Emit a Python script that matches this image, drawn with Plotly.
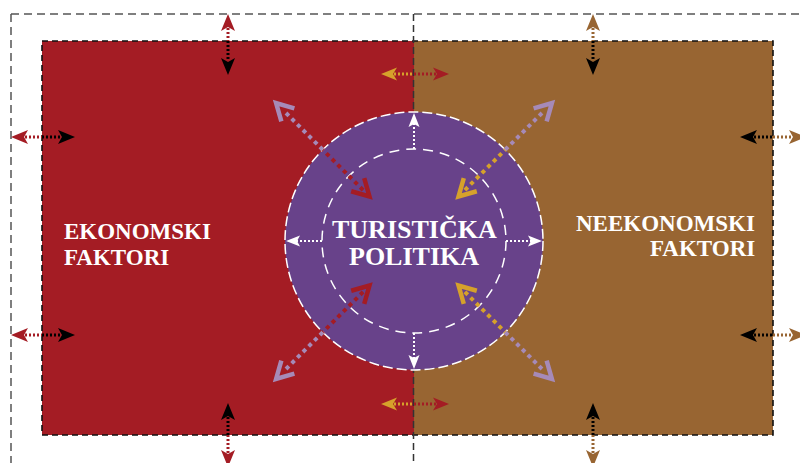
import math
import plotly.graph_objects as go

# ---- text content ----
center_lines = ["TURISTIČKA", "POLITIKA"]
left_lines = ["EKONOMSKI", "FAKTORI"]
right_lines = ["NEEKONOMSKI", "FAKTORI"]

# ---- styles ----
RED = "#A41C24"
BROWN = "#986532"
PURPLE = "#68428A"
GOLD = "#D6A12B"
LAV = "#A68AB8"
BLACK = "#000000"
WHITE = "#FFFFFF"
FONT = "Liberation Serif"

W, H = 800, 463
shapes = []


def line(x0, y0, x1, y1, color, width, dash):
    shapes.append(dict(type="line", x0=x0, y0=y0, x1=x1, y1=y1,
                       line=dict(color=color, width=width, dash=dash)))


def head(tx, ty, ux, uy, color, L=17, Wd=14, notch=4):
    px, py = -uy, ux
    bx, by = tx - L * ux, ty - L * uy
    nx, ny = tx - (L - notch) * ux, ty - (L - notch) * uy
    p1 = (bx + Wd / 2 * px, by + Wd / 2 * py)
    p2 = (bx - Wd / 2 * px, by - Wd / 2 * py)
    path = f"M {tx},{ty} L {p1[0]},{p1[1]} L {nx},{ny} L {p2[0]},{p2[1]} Z"
    shapes.append(dict(type="path", path=path, fillcolor=color,
                       line=dict(width=0)))


def chevron(tx, ty, ux, uy, color, arm=19, width=4.5, half=math.radians(29)):
    bx, by = -ux, -uy
    c, s = math.cos(half), math.sin(half)
    a1 = (bx * c - by * s, bx * s + by * c)
    a2 = (bx * c + by * s, -bx * s + by * c)
    path = (f"M {tx + arm * a1[0]},{ty + arm * a1[1]} L {tx},{ty} "
            f"L {tx + arm * a2[0]},{ty + arm * a2[1]}")
    shapes.append(dict(type="path", path=path,
                       line=dict(color=color, width=width)))


DOT = "2px,2px"


def double_arrow(a, b, split, fixed, vertical, col_a, col_b,
                 head_a, head_b, L=17, Wd=14):
    """a < b along the moving axis; head at a points toward -, at b toward +."""
    if vertical:
        line(fixed, a + L - 3, fixed, split, col_a, 3, DOT)
        line(fixed, split, fixed, b - L + 3, col_b, 3, DOT)
        head(fixed, a, 0, -1, head_a, L, Wd)
        head(fixed, b, 0, 1, head_b, L, Wd)
    else:
        line(a + L - 3, fixed, split, fixed, col_a, 3, DOT)
        line(split, fixed, b - L + 3, fixed, col_b, 3, DOT)
        head(a, fixed, -1, 0, head_a, L, Wd)
        head(b, fixed, 1, 0, head_b, L, Wd)


# ---- geometry ----
LX0, LX1, RX1 = 42, 414, 773
RY0, RY1 = 41, 435
CX, CY, R_OUT, R_IN = 414, 241, 129, 92

# outer frame (gray dashed)
line(11, 14, 805, 14, "#555555", 1.5, "8px,5px")
line(11, 14, 11, 470, "#555555", 1.5, "8px,5px")

# rectangles
shapes.append(dict(type="rect", x0=LX0, y0=RY0, x1=LX1, y1=RY1,
                   fillcolor=RED, line=dict(width=0)))
shapes.append(dict(type="rect", x0=LX1, y0=RY0, x1=RX1, y1=RY1,
                   fillcolor=BROWN, line=dict(width=0)))
shapes.append(dict(type="rect", x0=LX0, y0=RY0, x1=RX1, y1=RY1,
                   fillcolor="rgba(0,0,0,0)",
                   line=dict(color="#111111", width=1.6, dash="6px,4px")))
# middle divider
line(413.5, 14, 413.5, 470, "#333333", 1.5, "7px,4px")

# circle
shapes.append(dict(type="circle", x0=CX - R_OUT, y0=CY - R_OUT,
                   x1=CX + R_OUT, y1=CY + R_OUT, fillcolor=PURPLE,
                   line=dict(width=0)))
shapes.append(dict(type="circle", x0=CX - R_OUT, y0=CY - R_OUT,
                   x1=CX + R_OUT, y1=CY + R_OUT,
                   line=dict(color=WHITE, width=1.5, dash="10px,4px")))
shapes.append(dict(type="circle", x0=CX - R_IN, y0=CY - R_IN,
                   x1=CX + R_IN, y1=CY + R_IN,
                   line=dict(color=WHITE, width=1.5, dash="10px,7px")))

# top / bottom vertical arrows
for xv, outer in ((228, RED), (593, BROWN)):
    double_arrow(14, 75, RY0, xv, True, outer, BLACK, outer, BLACK)
    double_arrow(403, 467, RY1, xv, True, BLACK, outer, BLACK, outer)
# left / right horizontal arrows
for yv in (137, 335):
    double_arrow(11, 75, LX0, yv, False, RED, BLACK, RED, BLACK)
    double_arrow(740, 806, RX1, yv, False, BLACK, BROWN, BLACK, BROWN)
# middle horizontal arrows
for yv in (74, 404):
    double_arrow(381, 449, 414, yv, False, GOLD, RED, GOLD, RED, L=16, Wd=13)

# diagonal arrows
r_tip_out, r_tip_in = 195, 63
for sx, sy, inner_col in ((-1, -1, RED), (1, -1, GOLD), (-1, 1, RED), (1, 1, GOLD)):
    ex, ey = sx / math.sqrt(2), sy / math.sqrt(2)
    line(CX + 72 * ex, CY + 72 * ey, CX + R_OUT * ex, CY + R_OUT * ey,
         inner_col, 4, "4px,4px")
    line(CX + R_OUT * ex, CY + R_OUT * ey, CX + 185 * ex, CY + 185 * ey,
         LAV, 4, "4px,4px")
    chevron(CX + r_tip_out * ex, CY + r_tip_out * ey, ex, ey, LAV)
    chevron(CX + r_tip_in * ex, CY + r_tip_in * ey, -ex, -ey, inner_col)

# white arrows inside circle
for ux, uy in ((0, -1), (0, 1), (-1, 0), (1, 0)):
    line(CX + R_IN * ux, CY + R_IN * uy, CX + (R_OUT - 11) * ux,
         CY + (R_OUT - 11) * uy, WHITE, 2, "2px,2px")
    head(CX + (R_OUT - 1) * ux, CY + (R_OUT - 1) * uy, ux, uy, WHITE,
         L=14, Wd=11, notch=3)

annotations = []
for i, t in enumerate(center_lines):
    annotations.append(dict(x=CX, y=229 + 27 * i, text=f"<b>{t}</b>",
                            showarrow=False, xanchor="center", yanchor="middle",
                            font=dict(family=FONT, size=26, color=WHITE)))
for i, t in enumerate(left_lines):
    annotations.append(dict(x=62, y=231 + 26 * i, text=f"<b>{t}</b>",
                            showarrow=False, xanchor="left", yanchor="middle",
                            font=dict(family=FONT, size=23, color=WHITE)))
for i, t in enumerate(right_lines):
    annotations.append(dict(x=757, y=223 + 25 * i, text=f"<b>{t}</b>",
                            showarrow=False, xanchor="right", yanchor="middle",
                            font=dict(family=FONT, size=23, color=WHITE)))

fig = go.Figure()
fig.update_layout(
    width=W, height=H,
    margin=dict(l=0, r=0, t=0, b=0),
    paper_bgcolor="white", plot_bgcolor="white",
    xaxis=dict(range=[0, W], visible=False, fixedrange=True),
    yaxis=dict(range=[H, 0], visible=False, fixedrange=True),
    shapes=shapes, annotations=annotations, showlegend=False,
)
fig.write_html(
    "out.html",
    config={"displayModeBar": False},
    post_script="document.body.style.margin='0';document.body.style.overflow='hidden';",
)
